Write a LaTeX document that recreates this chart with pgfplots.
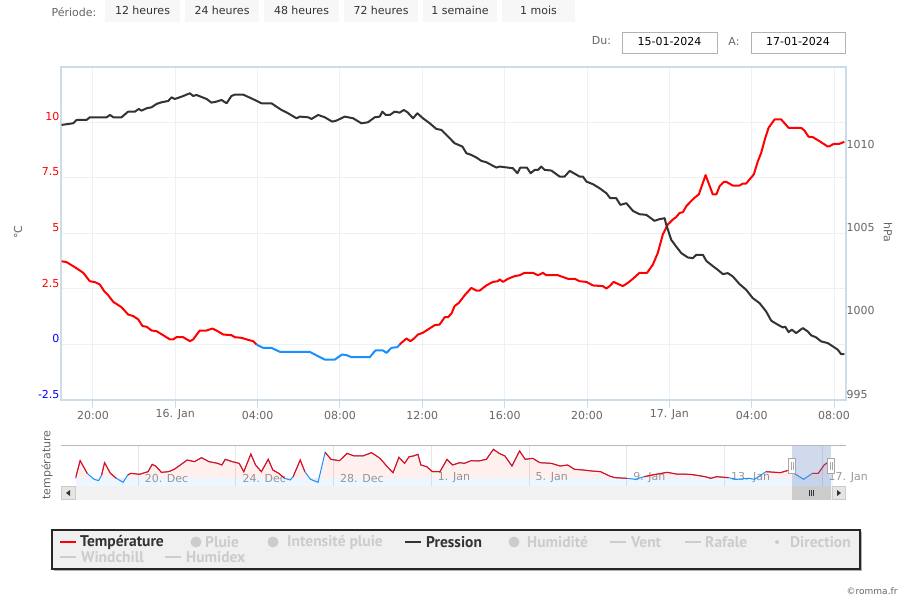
\documentclass[border=0pt]{standalone}
\usepackage{pgfplots}
\pgfplotsset{compat=1.18}
\usepackage{fontspec}
\setmainfont{DejaVu Sans}
\newfontfamily\legfont{PT Sans}
\definecolor{tred}{RGB}{255,0,0}
\definecolor{tblue}{RGB}{24,144,255}
\definecolor{pres}{RGB}{51,51,51}
\definecolor{axline}{RGB}{204,220,232}
\definecolor{gridc}{RGB}{238,240,243}
\definecolor{labc}{RGB}{102,102,102}
\definecolor{txt}{RGB}{51,51,51}
\definecolor{inact}{RGB}{204,204,204}
\definecolor{btn}{RGB}{247,247,247}
\definecolor{navgrid}{RGB}{230,230,230}
\definecolor{navlab}{RGB}{153,153,153}
\definecolor{maskc}{RGB}{102,133,194}
\definecolor{legbg}{RGB}{240,240,240}

% navigator: temperature over the month (day index: Dec d = d, Jan d = 31+d)
\pgfplotstableread{
x y
17.43 0.00
17.62 10.75
17.91 3.03
18.19 -0.63
18.38 -1.44
18.50 2.01
18.62 9.53
18.86 3.03
19.10 0.00
19.38 -2.46
19.57 2.01
19.69 3.03
20.05 2.42
20.40 4.04
20.57 8.52
20.71 7.50
20.95 3.64
21.24 4.04
21.47 5.47
21.76 8.52
22.00 11.16
22.30 10.14
22.59 12.58
22.90 10.14
23.25 9.13
23.42 8.11
23.56 11.57
23.85 10.14
24.13 9.13
24.32 4.04
24.61 14.82
24.80 8.11
25.04 4.04
25.32 11.57
25.51 5.06
25.75 3.03
25.99 0.00
26.22 -1.04
26.34 0.99
26.63 11.16
26.82 4.04
27.05 -0.63
27.36 -2.46
27.65 15.84
27.89 11.57
28.24 10.75
28.55 15.23
28.84 13.60
29.19 13.60
29.55 15.63
29.90 12.18
30.19 7.09
30.43 3.43
30.67 12.79
30.90 9.13
31.09 13.19
31.26 13.60
31.45 14.62
31.57 8.11
31.81 7.09
32.04 4.04
32.35 4.04
32.64 11.57
32.87 8.11
33.16 9.53
33.35 9.13
33.63 10.75
33.94 10.55
34.25 11.57
34.54 17.66
34.77 15.23
35.01 13.60
35.30 7.50
35.61 16.65
35.84 11.57
36.15 12.18
36.44 9.53
36.91 9.13
37.27 7.50
37.58 8.11
37.86 5.47
38.22 5.06
38.57 4.45
38.93 4.04
39.29 1.40
39.52 0.38
40.00 0.00
40.36 -0.63
40.71 0.99
41.19 2.42
41.66 3.64
42.02 2.62
42.61 2.42
43.21 0.99
43.44 0.00
43.68 0.99
44.16 0.38
44.51 -0.63
44.99 0.00
45.23 -0.63
45.70 4.04
46.29 3.43
46.65 5.06
46.77 3.75
47.24 -0.63
47.60 3.03
47.84 3.03
48.08 8.11
48.27 10.14
}\navdata

\begin{document}
\begin{tikzpicture}[x=1pt,y=1pt,font=\fontsize{11}{13}\selectfont]
\useasboundingbox (0,0) rectangle (910,600);
\fill[white] (0,0) rectangle (910,600);

% period buttons
\node[text=labc] at (74,588) {Période:};
\foreach \a/\b/\t in {105/180/12 heures,185/259/24 heures,264/339/48 heures,344/418/72 heures,423/497/1 semaine,502/575/1 mois}{
  \fill[btn] (\a,578) rectangle (\b,600);
  \node[text=txt] at ({(\a+\b)/2},590) {\t};
}
% date range
\node[text=labc] at (601.5,559) {Du:};
\draw[gray!60,fill=white] (622,547) rectangle (717,568);
\node[text=black] at (669.5,558) {15-01-2024};
\node[text=labc] at (734,559) {A:};
\draw[gray!60,fill=white] (751,547) rectangle (845.5,568);
\node[text=black] at (798,558) {17-01-2024};

% axis titles
\node[rotate=90,text=labc] at (18,368) {°C};
\node[rotate=-90,text=labc] at (888,368) {hPa};

% temperature
\begin{axis}[
  at={(61pt,200pt)}, anchor=south west,
  width=785pt, height=333pt, scale only axis,
  xmin=18.45, xmax=56.58, ymin=-2.5, ymax=12.5,
  axis line style={axline, line width=1.5pt},
  xtick={20,24,...,56},
  xticklabels={20:00,16. Jan,04:00,08:00,12:00,16:00,20:00,17. Jan,04:00,08:00},
  ytick={-2.5,0,2.5,5,7.5,10},
  yticklabels={\textcolor{blue}{-2.5},\textcolor{blue}{0},\textcolor{red}{2.5},\textcolor{red}{5},\textcolor{red}{7.5},\textcolor{red}{10}},
  xmajorgrids, ymajorgrids,
  grid style={gridc, line width=1pt},
  xtick pos=left, ytick pos=left,
  tick align=outside, major tick length=8pt,
  xtick style={axline, line width=1pt},
  ytick style={draw=none},
  every tick label/.append style={font=\fontsize{11}{13}\selectfont},
  xticklabel style={text=labc, anchor=center, yshift=-7pt},
  yticklabel style={anchor=east, yshift=6pt, xshift=10pt},
]
\addplot[tred, line width=2pt, line join=round] table {
x y
18.48 3.75
18.72 3.71
19.13 3.48
19.53 3.23
19.85 2.85
20.10 2.81
20.34 2.70
20.55 2.40
20.74 2.22
20.99 1.92
21.39 1.68
21.71 1.35
21.96 1.28
22.20 1.13
22.41 0.83
22.61 0.80
22.85 0.63
23.09 0.60
23.41 0.42
23.74 0.23
23.90 0.23
24.06 0.33
24.38 0.33
24.71 0.15
24.87 0.23
25.19 0.63
25.52 0.63
25.81 0.72
26.00 0.63
26.33 0.45
26.73 0.42
26.89 0.33
27.22 0.30
27.46 0.23
27.78 0.15
27.95 0.00
};
\addplot[tblue, line width=2pt, line join=round] table {
x y
27.95 0.00
28.11 -0.08
28.27 -0.15
28.67 -0.15
29.08 -0.33
30.53 -0.33
30.94 -0.53
31.26 -0.68
31.75 -0.68
32.10 -0.45
32.32 -0.48
32.56 -0.57
33.45 -0.57
33.72 -0.27
34.09 -0.27
34.26 -0.38
34.50 -0.15
34.79 -0.12
34.90 0.00
};
\addplot[tred, line width=2pt, line join=round] table {
x y
34.90 0.00
34.99 0.08
35.23 0.27
35.42 0.15
35.60 0.27
35.79 0.45
36.03 0.53
36.28 0.68
36.60 0.87
36.84 0.90
37.09 1.23
37.25 1.23
37.42 1.40
37.57 1.73
37.78 1.88
38.06 2.22
38.38 2.55
38.63 2.43
38.79 2.43
39.11 2.66
39.43 2.82
39.67 2.85
39.76 2.93
39.92 2.82
40.16 2.96
40.49 3.08
40.73 3.12
40.97 3.23
41.37 3.23
41.62 3.12
41.86 3.23
42.02 3.12
42.59 3.12
43.07 2.96
43.40 2.96
43.64 2.85
43.97 2.82
44.29 2.66
44.77 2.63
44.94 2.52
45.10 2.63
45.29 2.82
45.50 2.73
45.74 2.63
45.99 2.78
46.23 2.96
46.55 3.23
46.92 3.23
47.20 3.60
47.44 4.13
47.68 4.95
47.93 5.41
48.17 5.63
48.33 5.74
48.50 5.93
48.66 5.96
48.82 6.23
49.06 6.46
49.22 6.61
49.43 6.76
49.76 7.63
50.11 6.76
50.28 6.76
50.44 7.13
50.65 7.33
50.76 7.33
51.08 7.16
51.41 7.16
51.57 7.25
51.73 7.25
51.89 7.43
52.10 7.66
52.30 8.26
52.46 8.63
52.66 9.31
52.82 9.76
53.11 10.14
53.43 10.14
53.79 9.76
54.40 9.76
54.56 9.64
54.76 9.36
54.97 9.34
55.29 9.16
55.67 8.93
55.78 8.93
55.99 9.04
56.26 9.04
56.50 9.13
};
\end{axis}

% pressure
\begin{axis}[
  at={(61pt,200pt)}, anchor=south west,
  width=785pt, height=333pt, scale only axis,
  xmin=18.45, xmax=56.58, ymin=995, ymax=1015,
  hide x axis, axis y line*=right,
  y axis line style={draw=none},
  ytick={995,1000,1005,1010}, yticklabels={995,1000,1005,1010},
  ytick style={draw=none},
  yticklabel style={font=\fontsize{11}{13}\selectfont, text=labc, anchor=west, xshift=-3pt, yshift=6pt},
]
\addplot[pres, line width=2pt, line join=round] table {
x y
18.48 1011.52
19.04 1011.62
19.21 1011.82
19.69 1011.82
19.85 1011.98
20.67 1011.98
20.83 1012.12
20.99 1011.98
21.39 1011.98
21.71 1012.32
22.04 1012.32
22.23 1012.48
22.36 1012.38
22.61 1012.52
22.85 1012.58
23.09 1012.78
23.33 1012.88
23.66 1012.96
23.82 1013.18
23.98 1013.08
24.31 1013.22
24.71 1013.42
24.87 1013.26
25.03 1013.32
25.52 1013.08
25.76 1012.86
26.00 1012.92
26.25 1013.02
26.49 1012.82
26.73 1013.26
26.89 1013.34
27.30 1013.34
27.62 1013.16
27.86 1013.02
28.19 1012.82
28.67 1012.82
29.16 1012.42
29.48 1012.22
29.89 1011.92
30.05 1012.02
30.45 1011.98
30.62 1011.88
30.94 1012.12
31.26 1011.98
31.62 1011.72
31.83 1011.78
32.23 1012.02
32.64 1011.92
33.04 1011.62
33.36 1011.68
33.69 1011.98
33.93 1012.02
34.06 1012.32
34.22 1012.12
34.42 1012.12
34.66 1012.32
34.90 1012.26
35.10 1012.42
35.28 1012.28
35.55 1011.92
35.76 1012.22
36.03 1011.92
36.36 1011.62
36.68 1011.28
36.93 1011.22
37.25 1010.82
37.57 1010.42
37.95 1010.22
38.14 1009.82
38.38 1009.72
38.63 1009.56
38.87 1009.36
39.11 1009.28
39.35 1009.12
39.60 1008.96
39.76 1009.02
40.40 1008.92
40.62 1008.62
40.76 1008.96
41.08 1008.96
41.26 1008.62
41.46 1008.82
41.62 1008.82
41.78 1009.02
41.94 1008.82
42.27 1008.78
42.67 1008.42
42.91 1008.42
43.16 1008.76
43.36 1008.62
43.64 1008.42
43.80 1008.42
43.97 1008.12
44.29 1007.96
44.61 1007.72
44.94 1007.42
45.13 1007.12
45.42 1007.12
45.62 1006.72
45.91 1006.82
46.23 1006.36
46.55 1006.16
46.88 1006.12
47.28 1005.76
47.52 1005.86
47.77 1005.92
47.85 1005.52
48.09 1004.62
48.33 1004.22
48.58 1003.82
48.90 1003.56
49.14 1003.52
49.31 1003.72
49.63 1003.72
49.79 1003.36
50.03 1003.12
50.35 1002.82
50.60 1002.56
50.84 1002.62
51.08 1002.42
51.41 1001.96
51.73 1001.62
52.05 1001.12
52.38 1000.82
52.70 1000.32
52.95 999.76
53.27 999.52
53.51 999.36
53.63 999.40
53.79 999.08
53.95 999.22
54.16 999.02
54.48 999.32
54.72 999.12
54.89 998.88
55.13 998.76
55.37 998.52
55.69 998.42
55.94 998.22
56.18 998.02
56.34 997.76
56.50 997.76
};
\end{axis}

% navigator
\node[rotate=90,text=labc] at (47,135) {température};
\begin{axis}[
  at={(75.5pt,114pt)}, anchor=south west,
  width=757.2pt, height=40pt, scale only axis,
  xmin=17.43, xmax=48.43, ymin=-4.7, ymax=19.7,
  axis line style={draw=none},
  xtick={20,24,...,48},
  xticklabels={20. Dec,24. Dec,28. Dec,1. Jan,5. Jan,9. Jan,13. Jan,17. Jan},
  ytick=\empty,
  xmajorgrids, grid style={navgrid, line width=1pt},
  xtick style={draw=none},
  xticklabel style={font=\fontsize{11}{13}\selectfont, text=navlab, anchor=west, xshift=3pt, yshift=8pt},
]
\addplot[draw=none, fill=tred, fill opacity=0.06] table {\navdata} \closedcycle;
\addplot[draw=none, fill=tblue, fill opacity=0.07] coordinates {(17.43,-4.7) (48.43,-4.7) (48.43,0) (17.43,0)};
\addplot[tblue, line width=1pt] table {\navdata};
\addplot[tred, line width=1pt, restrict y to domain=0:40] table {\navdata};
\end{axis}
\draw[gray!55, line width=1pt] (61,154) -- (846,154);
\fill[maskc, fill opacity=0.3] (792,114) rectangle (831,154);
\foreach \h in {792,831}{
  \draw[gray!70, fill=white] (\h-3.5,126.5) rectangle (\h+3.5,141.5);
  \draw[gray!70] (\h-1,130) -- (\h-1,138) (\h+1,130) -- (\h+1,138);
}
% scrollbar
\fill[gray!10] (61,100) rectangle (846,114);
\draw[gray!40, fill=gray!20] (61.5,100.5) rectangle (75,113.5);
\fill[txt] (66,107) -- (70,110) -- (70,104) -- cycle;
\draw[gray!40, fill=gray!20] (832,100.5) rectangle (845.5,113.5);
\fill[txt] (841,107) -- (837,110) -- (837,104) -- cycle;
\fill[gray!40] (792,100) rectangle (831,114);
\draw[txt] (809.5,104) -- (809.5,110) (811.5,104) -- (811.5,110) (813.5,104) -- (813.5,110);

% legend
\fill[gray!60] (54,29) rectangle (862,68.5);
\draw[black!85, line width=1.5pt, fill=legbg] (52,31) rectangle (860,70);
\begin{scope}[every node/.style={anchor=west, inner sep=0pt, font=\legfont\bfseries\fontsize{15.5}{17}\selectfont}]
\draw[tred, line width=2pt] (60,58) -- (76,58);
\node[text=txt] at (80,58) {Température};
\fill[inact] (196,58) circle (5.5);
\node[text=inact] at (205,58) {Pluie};
\fill[inact] (273,58) circle (5.5);
\node[text=inact] at (287,58) {Intensité pluie};
\draw[pres, line width=2pt] (405,58) -- (421,58);
\node[text=txt] at (426,58) {Pression};
\fill[inact] (514,58) circle (5.5);
\node[text=inact] at (527,58) {Humidité};
\draw[inact, line width=2pt] (610,58) -- (626,58);
\node[text=inact] at (631,58) {Vent};
\draw[inact, line width=2pt] (685,58) -- (701,58);
\node[text=inact] at (705,58) {Rafale};
\fill[inact] (777,58) circle (2);
\node[text=inact] at (790,58) {Direction};
\draw[inact, line width=2pt] (60,43) -- (76,43);
\node[text=inact] at (81,43) {Windchill};
\draw[inact, line width=2pt] (165,43) -- (181,43);
\node[text=inact] at (186,43) {Humidex};
\end{scope}
\node[anchor=east, text=labc, font=\fontsize{9}{10}\selectfont] at (901,9) {©romma.fr};
\end{tikzpicture}
\end{document}
